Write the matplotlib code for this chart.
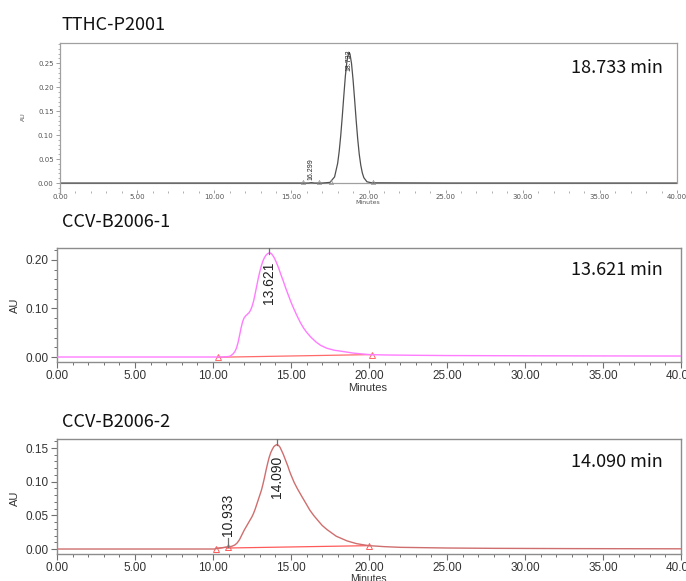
import matplotlib
matplotlib.use('Agg')
import matplotlib.pyplot as plt
from matplotlib import font_manager as fm
from matplotlib.ticker import MultipleLocator, FormatStrFormatter


def has_font(name):
    try:
        fm.findfont(fm.FontProperties(family=name), fallback_to_default=False)
        return True
    except Exception:
        return False


NARROW = 'Liberation Sans Narrow' if has_font('Liberation Sans Narrow') else 'Liberation Sans'
TITLEF = 'Noto Sans CJK KR' if has_font('Noto Sans CJK KR') else 'Noto Sans'

# ---------------- data ----------------
titles = ["TTHC-P2001", "CCV-B2006-1", "CCV-B2006-2"]
rt_labels = ["18.733 min", "13.621 min", "14.090 min"]

# Panel 1 : TTHC-P2001
p1_time = [0.0, 15.5, 16.1, 16.3, 16.5, 17.0, 17.5, 17.8, 18.0, 18.1, 18.2, 18.3, 18.4,
           18.5, 18.6, 18.7, 18.75, 18.8, 18.9, 19.0, 19.1, 19.2, 19.3, 19.4, 19.5,
           19.6, 19.7, 19.9, 20.2, 25.0, 40.0]
p1_au = [0.0, 0.0, 0.0, 0.0008, 0.0, 0.0, 0.0013, 0.0127, 0.041, 0.066, 0.099, 0.139, 0.182,
         0.223, 0.254, 0.270, 0.272, 0.269, 0.249, 0.215, 0.174, 0.131, 0.092, 0.060, 0.037,
         0.021, 0.011, 0.0026, 0.0005, 0.0, 0.0]
p1_peaks = [16.299, 18.733]
p1_marks = [15.77, 16.76, 17.6, 20.26]

# Panel 2 : CCV-B2006-1
p2_time = [0.0, 10.0, 10.6, 11.0, 11.1, 11.2, 11.3, 11.4, 11.5, 11.6, 11.7, 11.8, 11.9, 12.0,
           12.1, 12.2, 12.3, 12.4, 12.5, 12.6, 12.7, 12.8, 12.9, 13.0, 13.1, 13.2, 13.3, 13.4,
           13.5, 13.62, 13.75, 13.9, 14.05, 14.2, 14.35, 14.5, 14.65, 14.8, 15.0, 15.2, 15.4,
           15.6, 15.8, 16.0, 16.27, 16.6, 16.9, 17.3, 17.77, 18.2, 18.6, 19.0, 19.5, 20.0, 21.0,
           23.0, 25.0, 30.0, 35.0, 40.0]
p2_au = [0.0, 0.0, 0.0, 0.001, 0.002, 0.004, 0.007, 0.011, 0.018, 0.029, 0.044, 0.060, 0.073,
         0.081, 0.085, 0.088, 0.091, 0.096, 0.104, 0.115, 0.130, 0.146, 0.162, 0.176, 0.188,
         0.198, 0.205, 0.210, 0.213, 0.215, 0.213, 0.206, 0.196, 0.184, 0.170, 0.157, 0.143,
         0.130, 0.113, 0.098, 0.084, 0.071, 0.060, 0.051, 0.041, 0.031, 0.024, 0.018, 0.014,
         0.012, 0.010, 0.008, 0.0065, 0.005, 0.0042, 0.0035, 0.003, 0.0025, 0.0022, 0.002]
p2_peak = 13.621
p2_base_t = [10.3, 20.2]
p2_base_au = [-0.0005, 0.005]

# Panel 3 : CCV-B2006-2
p3_time = [0.0, 10.1, 10.2, 10.6, 10.93, 11.2, 11.4, 11.55, 11.7, 11.85, 12.0, 12.15, 12.3,
           12.4, 12.5, 12.6, 12.7, 12.8, 12.9, 13.0, 13.1, 13.2, 13.3, 13.4, 13.5, 13.6, 13.7,
           13.8, 13.9, 14.0, 14.09, 14.2, 14.3, 14.4, 14.5, 14.6, 14.7, 14.8, 14.9, 15.0, 15.2,
           15.4, 15.67, 15.95, 16.2, 16.45, 16.74, 17.0, 17.3, 17.6, 17.9, 18.3, 18.6, 18.9,
           19.2, 19.5, 20.0, 21.0, 22.0, 25.0, 28.0, 33.0, 40.0]
p3_au = [0.0, 0.0, 0.001, 0.002, 0.003, 0.004, 0.006, 0.009, 0.014, 0.021, 0.028, 0.034, 0.040,
         0.044, 0.048, 0.053, 0.059, 0.066, 0.073, 0.080, 0.087, 0.096, 0.106, 0.117, 0.127,
         0.136, 0.143, 0.148, 0.152, 0.154, 0.155, 0.154, 0.151, 0.146, 0.141, 0.135, 0.129,
         0.123, 0.116, 0.110, 0.099, 0.090, 0.079, 0.068, 0.058, 0.050, 0.042, 0.035, 0.029,
         0.024, 0.019, 0.015, 0.012, 0.010, 0.008, 0.0068, 0.005, 0.0035, 0.0025, 0.0015,
         0.001, 0.0006, 0.0003]
p3_peaks = [10.933, 14.090]
p3_base1_t = [10.2, 10.93]
p3_base1_au = [0.0005, 0.003]
p3_base2_t = [10.93, 20.0]
p3_base2_au = [0.0015, 0.005]

# ---------------- figure ----------------
W, H = 686, 581
fig = plt.figure(figsize=(W / 100, H / 100), dpi=100)


def box(l, t, r, b):
    return [l / W, 1 - b / H, (r - l) / W, (b - t) / H]


def fx(x):
    return x / W


def fy(y):
    return 1 - y / H


FRAME = '#8c8c8c'
TXT = '#333333'

# ---------- Panel 1 ----------
ax1 = fig.add_axes(box(60, 43, 677, 193))
ax1.set_xlim(0, 40)
ax1.set_ylim(-0.0208, 0.292)
ax1.axhline(0, color='#a0a0a0', lw=0.9, zorder=1)
ax1.plot(p1_time, p1_au, color='#505050', lw=0.9, zorder=2)
ax1.plot(p1_marks, [0.0015] * len(p1_marks), ls='none', marker='^', ms=3,
         mfc='none', mec='#909090', mew=0.5, zorder=3)
for s in ['top', 'left', 'right']:
    ax1.spines[s].set_color('#a0a0a0')
    ax1.spines[s].set_linewidth(0.9)
ax1.spines['right'].set_bounds(0, 0.292)
ax1.spines['bottom'].set_visible(False)
ax1.xaxis.set_major_locator(MultipleLocator(5))
ax1.xaxis.set_minor_locator(MultipleLocator(1))
ax1.yaxis.set_major_locator(MultipleLocator(0.05))
ax1.yaxis.set_minor_locator(MultipleLocator(0.01))
ax1.xaxis.set_major_formatter(FormatStrFormatter('%.2f'))
ax1.yaxis.set_major_formatter(FormatStrFormatter('%.2f'))
ax1.tick_params(axis='x', which='major', direction='in', length=2, width=0.6,
                color='#909090', labelsize=5, labelcolor='#555555', pad=1)
ax1.tick_params(axis='x', which='minor', direction='in', length=1.5, width=0.5, color='#909090')
ax1.tick_params(axis='y', which='major', direction='out', length=3, width=0.6,
                color='#909090', labelsize=5, labelcolor='#555555', pad=1.5)
ax1.tick_params(axis='y', which='minor', direction='out', length=1.5, width=0.5, color='#909090')
for lab in ax1.get_xticklabels() + ax1.get_yticklabels():
    lab.set_family('DejaVu Sans')
ax1.text(p1_peaks[1], 0.279, f"{p1_peaks[1]:.3f}", rotation=90, ha='center', va='top',
         fontsize=5, family=NARROW, color='#222222')
ax1.text(p1_peaks[0], 0.006, f"{p1_peaks[0]:.3f}", rotation=90, ha='center', va='bottom',
         fontsize=5, family=NARROW, color='#222222')
fig.text(fx(23), fy(117), "AU", rotation=90, ha='center', va='center', fontsize=4.5,
         family=NARROW, color='#555555')
fig.text(fx(368), fy(203), "Minutes", ha='center', va='center', fontsize=4.5,
         family='DejaVu Sans', color='#555555')


def style_panel(ax, ymaj, ymin, ylim):
    ax.set_xlim(0, 40)
    ax.set_ylim(*ylim)
    for s in ax.spines.values():
        s.set_color(FRAME)
        s.set_linewidth(1.0)
    ax.xaxis.set_major_locator(MultipleLocator(5))
    ax.xaxis.set_minor_locator(MultipleLocator(1))
    ax.yaxis.set_major_locator(MultipleLocator(ymaj))
    ax.yaxis.set_minor_locator(MultipleLocator(ymin))
    ax.xaxis.set_major_formatter(FormatStrFormatter('%.2f'))
    ax.yaxis.set_major_formatter(FormatStrFormatter('%.2f'))
    ax.tick_params(axis='both', which='major', direction='out', length=4.5, width=0.8,
                   color='#707070', labelsize=8.5, labelcolor=TXT, pad=1.5)
    ax.tick_params(axis='both', which='minor', direction='out', length=2.5, width=0.7,
                   color='#707070')
    for lab in ax.get_xticklabels() + ax.get_yticklabels():
        lab.set_family(NARROW)


# ---------- Panel 2 ----------
ax2 = fig.add_axes(box(57, 248, 681, 362))
style_panel(ax2, 0.10, 0.02, (-0.0103, 0.2247))
ax2.plot(p2_base_t, p2_base_au, color='#ff6a6a', lw=0.9, zorder=2)
ax2.plot(p2_base_t, p2_base_au, ls='none', marker='^', ms=4, mfc='none',
         mec='#ff6a6a', mew=0.7, zorder=3)
ax2.plot(p2_time, p2_au, color='#ff7cff', lw=1.0, zorder=4)
ax2.plot([p2_peak, p2_peak], [0.2247, 0.213], color='#707070', lw=0.9, zorder=5)
ax2.text(p2_peak, 0.196, f"{p2_peak:.3f}", rotation=90, ha='center', va='top',
         fontsize=10, family='Liberation Sans', color='#222222')
fig.text(fx(15), fy(305), "AU", rotation=90, ha='center', va='center', fontsize=8,
         family='Liberation Sans', color=TXT)
fig.text(fx(368), fy(388), "Minutes", ha='center', va='center', fontsize=8,
         family=NARROW, color=TXT)

# ---------- Panel 3 ----------
ax3 = fig.add_axes(box(57, 439, 681, 554))
style_panel(ax3, 0.05, 0.01, (-0.0074, 0.1634))
ax3.plot(p3_base1_t, p3_base1_au, color='#ff5a5a', lw=0.9, zorder=2)
ax3.plot(p3_base2_t, p3_base2_au, color='#ff5a5a', lw=0.9, zorder=2)
ax3.plot(p3_base1_t + [p3_base2_t[1]], p3_base1_au + [p3_base2_au[1]], ls='none', marker='^',
         ms=4, mfc='none', mec='#ff5a5a', mew=0.7, zorder=3)
ax3.plot(p3_time, p3_au, color='#cf6e6e', lw=1.0, zorder=4)
ax3.plot([p3_peaks[1], p3_peaks[1]], [0.1634, 0.155], color='#707070', lw=0.9, zorder=5)
ax3.text(p3_peaks[1], 0.138, f"{p3_peaks[1]:.3f}", rotation=90, ha='center', va='top',
         fontsize=10, family='Liberation Sans', color='#222222')
ax3.plot([p3_peaks[0], p3_peaks[0]], [0.017, 0.003], color='#707070', lw=0.9, zorder=5)
ax3.text(p3_peaks[0], 0.019, f"{p3_peaks[0]:.3f}", rotation=90, ha='center', va='bottom',
         fontsize=10, family='Liberation Sans', color='#222222')
fig.text(fx(15), fy(498), "AU", rotation=90, ha='center', va='center', fontsize=8,
         family='Liberation Sans', color=TXT)
fig.text(fx(368), fy(574.5), "Minutes", ha='center', va='top', fontsize=7.5,
         family=NARROW, color=TXT)

# ---------- titles and retention time labels ----------
title_y = [30, 227, 427]
rt_y = [73, 275, 467]
for t, ty, r, ry in zip(titles, title_y, rt_labels, rt_y):
    fig.text(fx(62), fy(ty), t, ha='left', va='baseline', fontsize=13,
             family=TITLEF, color='#111111')
    fig.text(fx(663), fy(ry), r, ha='right', va='baseline', fontsize=13,
             family=TITLEF, color='#111111')

fig.savefig('out.png', dpi=100)
